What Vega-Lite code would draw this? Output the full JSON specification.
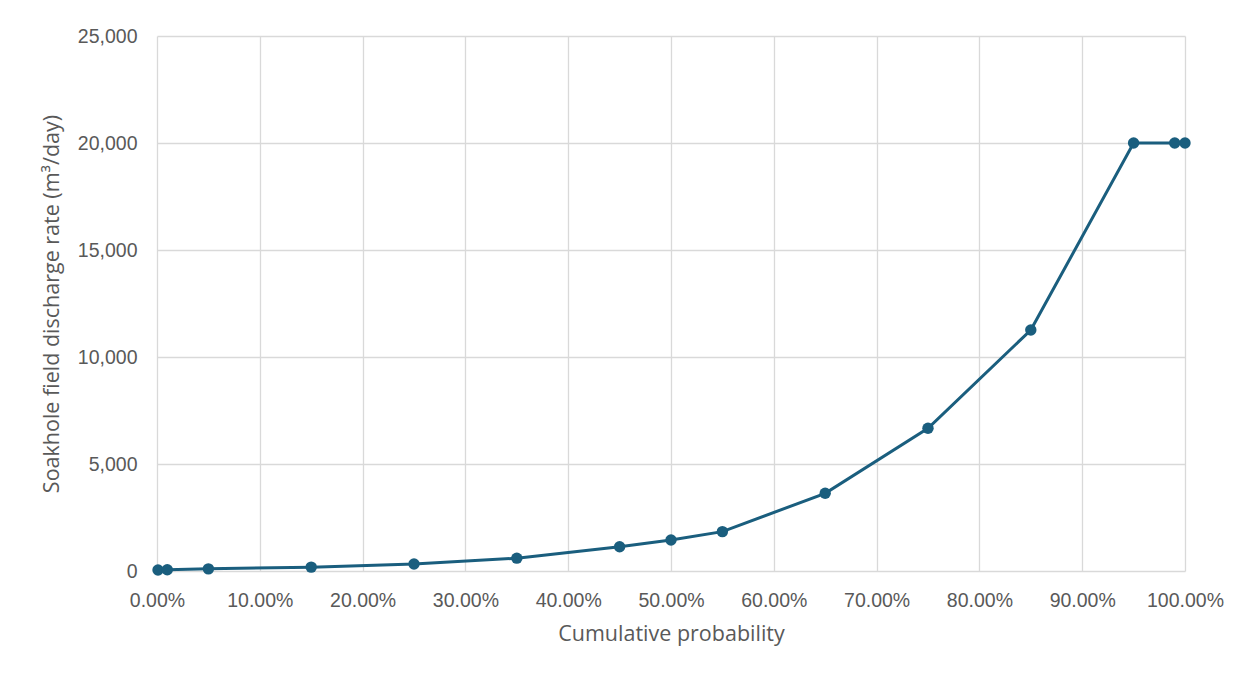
{
  "$schema": "https://vega.github.io/schema/vega-lite/v6.json",
  "width": 1028,
  "height": 535,
  "autosize": {"type": "none"},
  "padding": {"left": 157, "top": 36, "right": 65, "bottom": 104},
  "background": "white",
  "config": {
    "font": "Open Sans",
    "view": {"stroke": null},
    "axis": {
      "labelColor": "#595959",
      "titleColor": "#595959",
      "labelFontSize": 19.5,
      "titleFontSize": 21.5,
      "labelFont": "Liberation Sans",
      "titleFont": "Open Sans",
      "titleFontWeight": "normal",
      "grid": true,
      "gridColor": "#d9d9d9",
      "gridWidth": 1.3,
      "ticks": false,
      "domain": false
    }
  },
  "data": {
    "values": [
      {"p": 0.001, "q": 50},
      {"p": 0.01, "q": 60},
      {"p": 0.05, "q": 100},
      {"p": 0.15, "q": 180},
      {"p": 0.25, "q": 330},
      {"p": 0.35, "q": 600},
      {"p": 0.45, "q": 1130},
      {"p": 0.50, "q": 1450},
      {"p": 0.55, "q": 1840},
      {"p": 0.65, "q": 3630},
      {"p": 0.75, "q": 6670},
      {"p": 0.85, "q": 11260},
      {"p": 0.95, "q": 20000},
      {"p": 0.99, "q": 20000},
      {"p": 1.0, "q": 20000}
    ]
  },
  "layer": [
    {
      "mark": {"type": "line", "color": "#1a5e7e", "strokeWidth": 3,
        "point": {"filled": true, "size": 130, "color": "#1a5e7e", "opacity": 1}},
      "encoding": {
        "x": {
          "field": "p", "type": "quantitative",
          "scale": {"domain": [0, 1], "nice": false},
          "axis": {"format": ".2%", "values": [0,0.1,0.2,0.3,0.4,0.5,0.6,0.7,0.8,0.9,1.0],
            "grid": true, "labelPadding": 20, "title": "Cumulative probability", "titlePadding": 14,
            "labelFlush": false}
        },
        "y": {
          "field": "q", "type": "quantitative",
          "scale": {"domain": [0, 25000], "nice": false},
          "axis": {"format": ",d", "values": [0,5000,10000,15000,20000,25000],
            "grid": true, "labelPadding": 20, "title": "Soakhole field discharge rate (m³/day)", "titlePadding": 14}
        }
      }
    }
  ]
}
